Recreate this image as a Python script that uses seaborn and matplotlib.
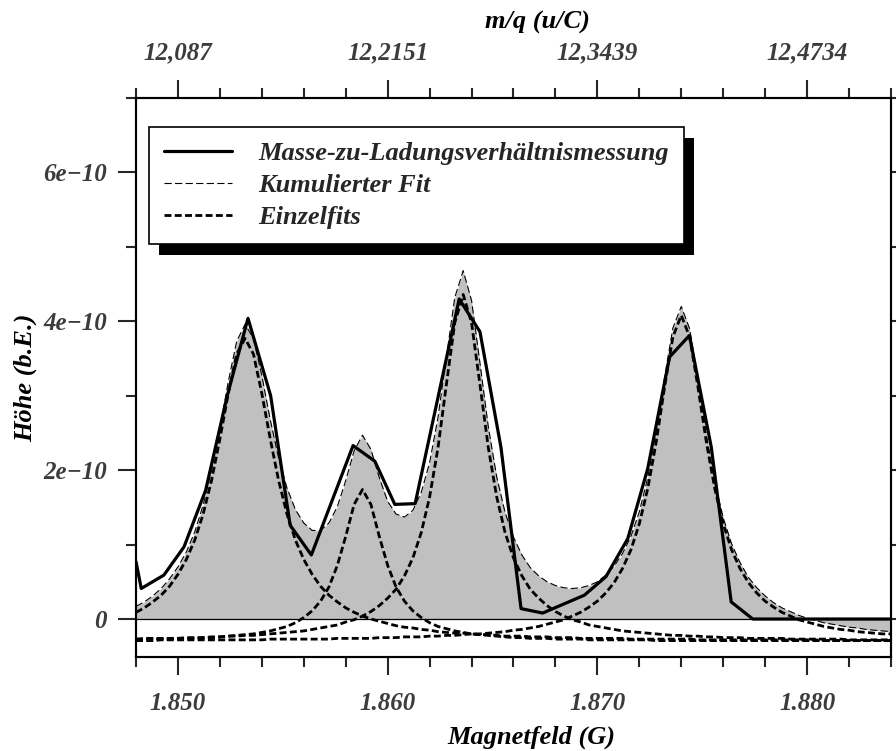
import numpy as np
import matplotlib
matplotlib.use("Agg")
import matplotlib.pyplot as plt
import seaborn as sns
from matplotlib.patches import Rectangle
from matplotlib.ticker import FixedLocator, MultipleLocator

# Messung: Magnetfeld (G) und Hoehe in Einheiten von 1e-10
mess_x = [1.8480, 1.84825, 1.84933, 1.85029, 1.85132, 1.85235, 1.85334, 1.85442,
          1.85535, 1.85636, 1.85835, 1.85939, 1.86034, 1.86131, 1.86341, 1.86440,
          1.86540, 1.86636, 1.86739, 1.86938, 1.87041, 1.87145, 1.87240, 1.87344,
          1.87439, 1.87543, 1.87638, 1.87741, 1.8784, 1.8794, 1.8804, 1.8814,
          1.8824, 1.8834, 1.8840]
mess_y = [0.77, 0.41, 0.59, 0.97, 1.73, 3.00, 4.04, 3.00, 1.26, 0.86, 2.33, 2.12,
          1.54, 1.55, 4.30, 3.86, 2.31, 0.14, 0.08, 0.32, 0.57, 1.08, 2.02, 3.52,
          3.81, 2.31, 0.23, 0.00, 0.0, 0.0, 0.0, 0.0, 0.0, 0.0, 0.0]

# Fitkurven, abgetastet alle 0.0004 G von 1.848 bis 1.884 (Einheiten 1e-10)
fit_x = np.linspace(1.848, 1.884, 91)
kumuliert = [0.17, 0.23, 0.31, 0.41, 0.54, 0.70, 0.90, 1.17, 1.53, 1.99,
             2.56, 3.19, 3.73, 3.96, 3.77, 3.27, 2.68, 2.16, 1.76, 1.47,
             1.29, 1.19, 1.19, 1.29, 1.51, 1.86, 2.26, 2.47, 2.28, 1.90,
             1.58, 1.41, 1.37, 1.46, 1.70, 2.10, 2.71, 3.52, 4.32, 4.68,
             4.28, 3.44, 2.58, 1.91, 1.43, 1.10, 0.86, 0.69, 0.58, 0.50,
             0.45, 0.42, 0.41, 0.42, 0.45, 0.50, 0.59, 0.71, 0.88, 1.11,
             1.44, 1.90, 2.51, 3.24, 3.91, 4.20, 3.90, 3.21, 2.47, 1.84,
             1.36, 1.01, 0.76, 0.56, 0.42, 0.31, 0.22, 0.15, 0.10, 0.05,
             0.01, -0.02, -0.05, -0.07, -0.09, -0.11, -0.12, -0.14, -0.15, -0.16,
             -0.17]
einzel_1 = [0.09, 0.15, 0.23, 0.32, 0.44, 0.60, 0.80, 1.06, 1.41, 1.86,
            2.42, 3.03, 3.56, 3.77, 3.56, 3.03, 2.42, 1.86, 1.41, 1.06,
            0.80, 0.60, 0.44, 0.32, 0.23, 0.15, 0.09, 0.04, 0.00, -0.03,
            -0.06, -0.09, -0.11, -0.12, -0.14, -0.15, -0.17, -0.18, -0.19, -0.19,
            -0.20, -0.21, -0.21, -0.22, -0.23, -0.23, -0.23, -0.24, -0.24, -0.24,
            -0.25, -0.25, -0.25, -0.26, -0.26, -0.26, -0.26, -0.26, -0.26, -0.27,
            -0.27, -0.27, -0.27, -0.27, -0.27, -0.27, -0.27, -0.28, -0.28, -0.28,
            -0.28, -0.28, -0.28, -0.28, -0.28, -0.28, -0.28, -0.28, -0.28, -0.28,
            -0.28, -0.28, -0.29, -0.29, -0.29, -0.29, -0.29, -0.29, -0.29, -0.29,
            -0.29]
einzel_2 = [-0.28, -0.27, -0.27, -0.27, -0.27, -0.26, -0.26, -0.26, -0.25, -0.25,
            -0.24, -0.23, -0.22, -0.21, -0.20, -0.18, -0.16, -0.13, -0.10, -0.05,
            0.02, 0.11, 0.24, 0.43, 0.72, 1.11, 1.54, 1.74, 1.54, 1.11,
            0.72, 0.43, 0.24, 0.11, 0.02, -0.05, -0.10, -0.13, -0.16, -0.18,
            -0.20, -0.21, -0.22, -0.23, -0.24, -0.25, -0.25, -0.26, -0.26, -0.26,
            -0.27, -0.27, -0.27, -0.27, -0.28, -0.28, -0.28, -0.28, -0.28, -0.28,
            -0.28, -0.28, -0.29, -0.29, -0.29, -0.29, -0.29, -0.29, -0.29, -0.29,
            -0.29, -0.29, -0.29, -0.29, -0.29, -0.29, -0.29, -0.29, -0.29, -0.29,
            -0.29, -0.29, -0.29, -0.29, -0.29, -0.29, -0.29, -0.29, -0.29, -0.29,
            -0.29]
einzel_3 = [-0.27, -0.26, -0.26, -0.26, -0.26, -0.26, -0.25, -0.25, -0.25, -0.24,
            -0.24, -0.23, -0.23, -0.22, -0.22, -0.21, -0.20, -0.19, -0.18, -0.17,
            -0.16, -0.14, -0.12, -0.10, -0.08, -0.04, -0.01, 0.04, 0.10, 0.18,
            0.28, 0.40, 0.58, 0.82, 1.16, 1.64, 2.30, 3.15, 3.98, 4.36,
            3.98, 3.15, 2.30, 1.64, 1.16, 0.82, 0.58, 0.40, 0.28, 0.18,
            0.10, 0.04, -0.01, -0.04, -0.08, -0.10, -0.12, -0.14, -0.16, -0.17,
            -0.18, -0.19, -0.20, -0.21, -0.22, -0.22, -0.23, -0.23, -0.24, -0.24,
            -0.25, -0.25, -0.25, -0.26, -0.26, -0.26, -0.26, -0.26, -0.27, -0.27,
            -0.27, -0.27, -0.27, -0.27, -0.27, -0.28, -0.28, -0.28, -0.28, -0.28,
            -0.28]
einzel_4 = [-0.29, -0.29, -0.29, -0.28, -0.28, -0.28, -0.28, -0.28, -0.28, -0.28,
            -0.28, -0.28, -0.28, -0.28, -0.28, -0.28, -0.27, -0.27, -0.27, -0.27,
            -0.27, -0.27, -0.27, -0.27, -0.26, -0.26, -0.26, -0.26, -0.26, -0.25,
            -0.25, -0.25, -0.24, -0.24, -0.24, -0.23, -0.23, -0.22, -0.22, -0.21,
            -0.20, -0.20, -0.19, -0.18, -0.17, -0.15, -0.14, -0.12, -0.10, -0.07,
            -0.04, -0.01, 0.04, 0.09, 0.16, 0.24, 0.35, 0.49, 0.68, 0.93,
            1.28, 1.75, 2.37, 3.11, 3.79, 4.08, 3.79, 3.11, 2.37, 1.75,
            1.28, 0.93, 0.68, 0.49, 0.35, 0.24, 0.16, 0.09, 0.04, -0.01,
            -0.04, -0.07, -0.10, -0.12, -0.14, -0.15, -0.17, -0.18, -0.19, -0.20,
            -0.20]

x_ticks = [1.850, 1.860, 1.870, 1.880]
x_tick_labels = ["1.850", "1.860", "1.870", "1.880"]
top_tick_labels = ["12,087", "12,2151", "12,3439", "12,4734"]
y_ticks = [0, 2, 4, 6]
y_tick_labels = ["0", "2e\u221210", "4e\u221210", "6e\u221210"]
SCALE = 1e-10

sns.set_style("white")
plt.rcParams["font.family"] = ["Liberation Serif", "DejaVu Serif"]
plt.rcParams["font.style"] = "italic"
plt.rcParams["font.weight"] = "bold"

fig = plt.figure(figsize=(8.96, 7.51), dpi=100)
ax = fig.add_axes([0.1518, 0.1252, 0.8426, 0.7443])

sc = lambda v: np.asarray(v) * SCALE

ax.fill_between(fit_x, sc(kumuliert), 0, color="#c0c0c0", lw=0, zorder=1)
ax.axhline(0, color="black", lw=0.9, zorder=2)

einzel_style = dict(color="black", lw=2.0, linestyle=(0, (2.5, 1.2)), zorder=3)
for i, e in enumerate([einzel_1, einzel_2, einzel_3, einzel_4]):
    sns.lineplot(x=fit_x, y=sc(e), ax=ax, label="Einzelfits" if i == 0 else "_nolegend_",
                 **einzel_style)
sns.lineplot(x=fit_x, y=sc(kumuliert), ax=ax, color="black", lw=0.8,
             linestyle=(0, (6.5, 3)), zorder=4, label="Kumulierter Fit")
sns.lineplot(x=mess_x, y=sc(mess_y), ax=ax, color="black", lw=2.3, zorder=5,
             label="Masse-zu-Ladungsverh\u00e4ltnismessung")

ax.set_xlim(1.848, 1.884)
ax.set_ylim(-0.51e-10, 7.0e-10)

# Achsen
for sp in ax.spines.values():
    sp.set_linewidth(1.5)
    sp.set_color("black")

ax.xaxis.set_major_locator(FixedLocator(x_ticks))
ax.set_xticklabels(x_tick_labels)
ax.xaxis.set_minor_locator(MultipleLocator(0.002))
ax.yaxis.set_major_locator(FixedLocator(sc(y_ticks)))
ax.set_yticklabels(y_tick_labels)
ax.yaxis.set_minor_locator(MultipleLocator(1e-10))

ax.tick_params(axis="x", which="major", direction="out", length=13, width=1.5,
               pad=12, labelsize=18, labelcolor="#3c3c3c", bottom=True)
ax.tick_params(axis="x", which="minor", direction="out", length=7, width=1.5, bottom=True)
ax.tick_params(axis="y", which="major", direction="out", length=13, width=1.5,
               pad=8, labelsize=18, labelcolor="#3c3c3c", left=True, right=True)
ax.tick_params(axis="y", which="minor", direction="out", length=7, width=1.5,
               left=True, right=True)

ax2 = ax.twiny()
ax2.set_xlim(ax.get_xlim())
ax2.xaxis.set_major_locator(FixedLocator(x_ticks))
ax2.set_xticklabels(top_tick_labels)
ax2.xaxis.set_minor_locator(MultipleLocator(0.002))
ax2.tick_params(axis="x", which="major", direction="out", length=13, width=1.5,
                pad=11, labelsize=18, labelcolor="#3c3c3c")
ax2.tick_params(axis="x", which="minor", direction="out", length=7, width=1.5)
for sp in ax2.spines.values():
    sp.set_linewidth(1.5)

lab_font = dict(fontsize=19, fontweight="bold", fontstyle="italic", color="black")
ax.set_xlabel("Magnetfeld (G)", **lab_font)
ax.xaxis.set_label_coords(0.523, -0.143)
ax.xaxis.label.set_va("center")
ax.set_ylabel("H\u00f6he (b.E.)", **lab_font)
ax.yaxis.set_label_coords(-0.147, 0.5)
ax.yaxis.label.set_va("center")
ax2.set_xlabel("m/q (u/C)", **lab_font)
ax2.xaxis.set_label_coords(0.532, 1.136)
ax2.xaxis.label.set_va("center")

# Legende mit hartem Schatten
handles, labels = ax.get_legend_handles_labels()
order = [labels.index(l) for l in ["Masse-zu-Ladungsverh\u00e4ltnismessung",
                                    "Kumulierter Fit", "Einzelfits"]]
leg = ax.legend([handles[i] for i in order], [labels[i] for i in order],
                loc="upper left", bbox_to_anchor=(0.0172, 0.948), borderaxespad=0,
                frameon=True, fancybox=False, framealpha=1, edgecolor="black",
                prop=dict(size=19, weight="bold", style="italic"),
                handlelength=2.6, handletextpad=1.0, borderpad=0.55, labelspacing=0.33)
leg.get_frame().set_linewidth(1.2)
leg.set_zorder(10)
ax2.set_zorder(-1)
ax.patch.set_visible(False)

fig.canvas.draw()
bb = leg.get_window_extent()
inv = ax.transAxes.inverted()
(x0, y0), (x1, y1) = inv.transform([[bb.x0 + 10, bb.y0 - 11], [bb.x1 + 10, bb.y1 - 11]])
ax.add_patch(Rectangle((x0, y0), x1 - x0, y1 - y0, transform=ax.transAxes,
                       facecolor="black", edgecolor="none", zorder=9, clip_on=False))

fig.savefig("out.png", dpi=100)
